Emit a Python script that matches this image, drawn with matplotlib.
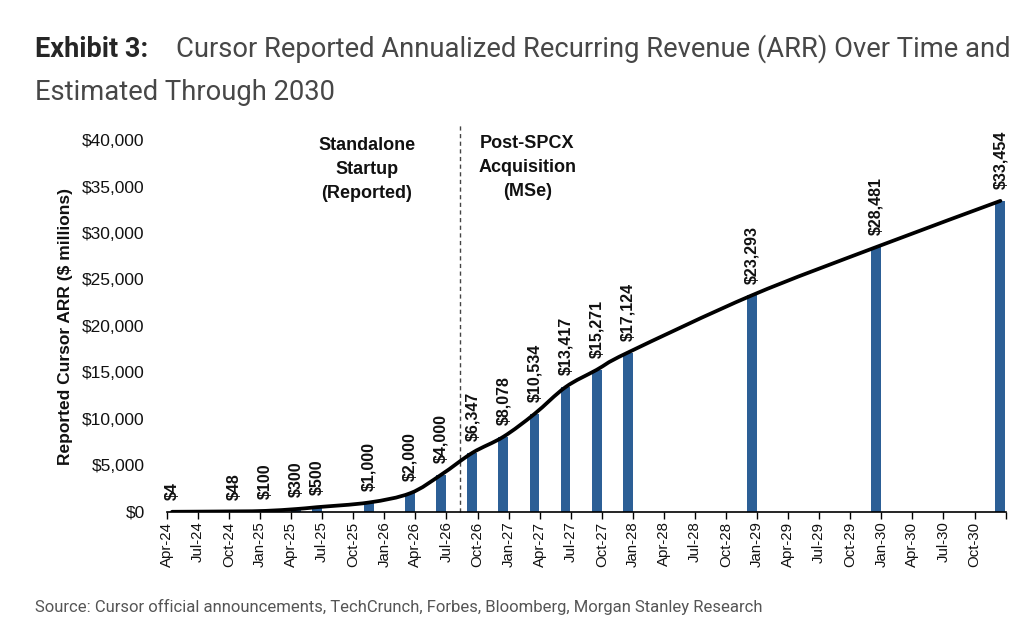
import numpy as np
import pandas as pd
import matplotlib
matplotlib.use("Agg")
import matplotlib.pyplot as plt
from matplotlib.path import Path
from matplotlib.patches import PathPatch

# data (reported + MS estimates), $ millions
months = ["2024-04", "2024-10", "2025-01", "2025-04", "2025-06", "2025-11",
          "2026-03", "2026-06", "2026-09", "2026-12", "2027-03", "2027-06",
          "2027-09", "2027-12", "2028-12", "2029-12", "2030-12"]
arr = [4, 48, 100, 300, 500, 1000, 2000, 4000, 6347, 8078, 10534, 13417,
       15271, 17124, 23293, 28481, 33454]

start = pd.Period("2024-04", freq="M")
end = pd.Period("2031-01", freq="M")
quarters = pd.period_range("2024-04", "2030-10", freq="M")[::3]
tick_labels = [q.strftime("%b-%y") for q in quarters]

BAR = "#2c5f96"
plt.rcParams['font.family'] = ['Liberation Sans', 'DejaVu Sans']

idx = np.array([(pd.Period(m, freq="M") - start).n for m in months])
xc = idx + 0.5
vals = np.array(arr, dtype=float)

fig = plt.figure(figsize=(10.24, 6.28), dpi=100)
ax = fig.add_axes([0.163, 0.185, 0.819, 0.592])

ax.bar(xc, vals, width=0.95, color=BAR, zorder=2)

# smoothed line through the points (catmull-rom -> bezier)
pts = np.column_stack([xc, vals])
verts = [pts[0]]
codes = [Path.MOVETO]
n = len(pts)
for i in range(n - 1):
    p0 = pts[i - 1] if i > 0 else pts[i]
    p1, p2 = pts[i], pts[i + 1]
    p3 = pts[i + 2] if i + 2 < n else pts[i + 1]
    verts += [p1 + (p2 - p0) / 6, p2 - (p3 - p1) / 6, p2]
    codes += [Path.CURVE4] * 3
ax.add_patch(PathPatch(Path(verts, codes), fill=False, lw=2.7,
                       edgecolor="black", zorder=3, capstyle="round"))

for x, v in zip(xc, arr):
    ax.annotate(f"${v:,}", (x, v), xytext=(0, 8.5), textcoords="offset points",
                rotation=90, ha="center", va="bottom", fontsize=11.5,
                fontweight="bold", color="#111111")

ax.set_xlim(0, (end - start).n)
ax.set_ylim(0, 40000)
ax.set_yticks(np.arange(0, 40001, 5000))
ax.set_yticklabels([f"${t:,}" for t in range(0, 40001, 5000)])
ax.set_xticks([(q - start).n for q in quarters] + [(end - start).n])
ax.set_xticklabels(tick_labels + [""], rotation=90)
ax.tick_params(axis="y", length=0, pad=16, labelsize=12.5, labelcolor="#111111")
ax.tick_params(axis="x", length=5, width=1, pad=2, labelsize=10.8,
               labelcolor="#111111")
for s in ["top", "right", "left"]:
    ax.spines[s].set_visible(False)
ax.spines["bottom"].set_linewidth(1.2)

# divider between reported and estimated periods
ax.plot([28.3, 28.3], [0, 41800], ls=(0, (3, 2.5)), lw=1, color="#444444",
        clip_on=False, zorder=1)
ax.text(19.3, 40350, "Standalone\nStartup\n(Reported)", ha="center", va="top",
        fontsize=13, fontweight="bold", linespacing=1.55, color="#111111")
ax.text(34.8, 40550, "Post-SPCX\nAcquisition\n(MSe)", ha="center", va="top",
        fontsize=13, fontweight="bold", linespacing=1.55, color="#111111")

fig.text(0.064, 0.48, "Reported Cursor ARR ($ millions)", rotation=90,
         ha="center", va="center", fontsize=12.5, fontweight="bold",
         color="#111111")

fig.text(35 / 1024, 1 - 57 / 628, "Exhibit 3:", fontsize=19.5, fontweight="bold",
         family="Roboto", color="#262626")
fig.text(176 / 1024, 1 - 57 / 628,
         "Cursor Reported Annualized Recurring Revenue (ARR) Over Time and",
         fontsize=19.7, fontweight="normal", family="Roboto", color="#474747")
fig.text(35 / 1024, 1 - 100 / 628, "Estimated Through 2030", fontsize=19.7,
         fontweight="normal", family="Roboto", color="#474747")
fig.text(35 / 1024, 1 - 612 / 628,
         "Source: Cursor official announcements, TechCrunch, Forbes, Bloomberg, "
         "Morgan Stanley Research", fontsize=12, family="Roboto",
         color="#555555")

fig.savefig("out.png", dpi=100, facecolor="white")
